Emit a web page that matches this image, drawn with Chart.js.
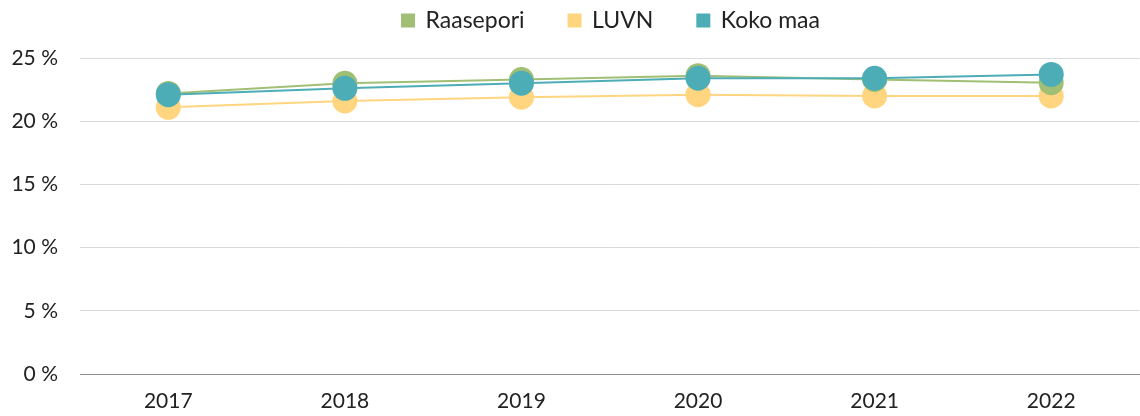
<!DOCTYPE html>
<html>
<head>
<meta charset="utf-8">
<script src="https://cdn.jsdelivr.net/npm/chart.js@4"></script>
<style>
  html, body { margin: 0; padding: 0; background: #fff; overflow: hidden; }
  #wrap { width: 1152px; height: 416px; position: relative; }
</style>
</head>
<body>
<div id="wrap"><canvas id="chart"></canvas></div>
<script>
const years = ['2017', '2018', '2019', '2020', '2021', '2022'];
const raasepori = [22.2, 23.0, 23.3, 23.6, 23.3, 23.05];
const luvn = [21.1, 21.6, 21.9, 22.1, 22.0, 22.0];
const kokoMaa = [22.1, 22.6, 23.0, 23.4, 23.4, 23.7];
const yTicks = [0, 5, 10, 15, 20, 25];

const font = "Lato, 'Open Sans', sans-serif";

function series(label, data, color, order) {
  return {
    label: label, data: data, order: order,
    borderColor: color, backgroundColor: color,
    borderWidth: 2, pointRadius: 12.5, pointHoverRadius: 12.5,
    pointBorderWidth: 0, tension: 0
  };
}

// wide gaps between legend items, but keep the legend short and shifted right
const legendTweak = {
  id: 'legendTweak',
  beforeInit(chart) {
    const fit = chart.legend.fit;
    chart.legend.fit = function() {
      fit.call(this);
      this.height -= 19;
    };
  },
  beforeDraw(chart) {
    const lg = chart.legend;
    if (!lg._moved) {
      lg.left += 35;
      lg.right += 35;
      lg.top -= 35;
      lg._moved = true;
    }
  }
};

new Chart(document.getElementById('chart'), {
  type: 'line',
  data: {
    labels: years,
    datasets: [
      series('Raasepori', raasepori, '#a0bf74', 1),
      series('LUVN', luvn, '#ffd580', 2),
      series('Koko maa', kokoMaa, '#4dadb6', 0)
    ]
  },
  plugins: [legendTweak],
  options: {
    responsive: true,
    maintainAspectRatio: false,
    animation: false,
    layout: { padding: 0 },
    plugins: {
      legend: {
        position: 'top',
        labels: {
          color: '#222',
          font: { family: font, size: 23 },
          boxWidth: 12, boxHeight: 12, padding: 44,
          sort: (a, b) => a.datasetIndex - b.datasetIndex
        }
      },
      tooltip: { enabled: false }
    },
    scales: {
      x: {
        offset: true,
        grid: { display: false },
        border: { color: '#8c8c8c', width: 1 },
        afterFit: axis => { axis.height = 42; },
        ticks: { color: '#222', font: { family: font, size: 21 }, padding: 7 }
      },
      y: {
        min: 0, max: 25,
        afterBuildTicks: axis => { axis.ticks = yTicks.map(v => ({ value: v })); },
        grid: { color: ctx => ctx.tick && ctx.tick.value === 0 ? '#8c8c8c' : '#d9d9d9', drawTicks: false },
        border: { display: false },
        afterFit: axis => { axis.width = 80; },
        ticks: {
          color: '#222', font: { family: font, size: 21 }, padding: 22,
          callback: v => v + ' %'
        }
      }
    }
  }
});
</script>
</body>
</html>
